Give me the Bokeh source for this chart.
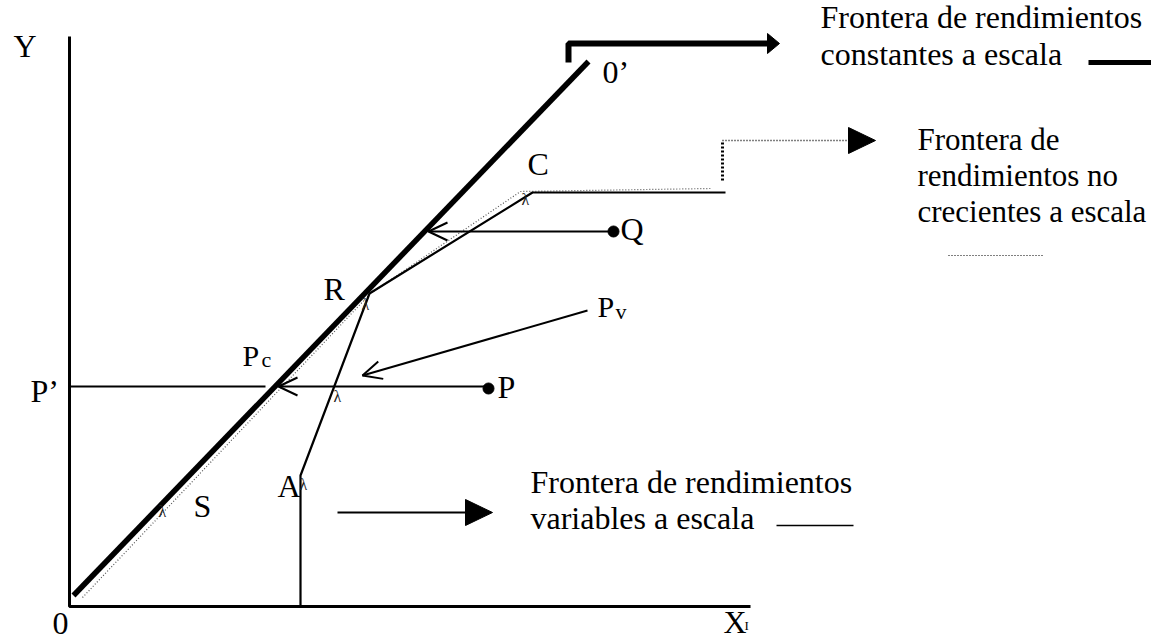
import math
from bokeh.plotting import figure
from bokeh.models import Range1d
from bokeh.core.properties import value
from bokeh.embed import file_html
from bokeh.resources import INLINE

# ---------------- data (diagram coordinates, origin at the axes' corner) ----------------
axis_x = [0, 0, 681]
axis_y = [570, 0, 0]

# constant returns to scale frontier (thick)
crs_x = [4, 519]
crs_y = [11, 545]

# variable returns to scale frontier (solid): X-axis foot, A, R, C, end
vrs_x = [231, 231, 300, 463, 656]
vrs_y = [0, 131, 313, 414, 414]

# non-increasing returns to scale frontier (dotted)
nirs_x = [13, 301, 451, 641]
nirs_y = [9, 313, 415, 418]

# P' horizontal reference
pprime_x = [0, 196]
pprime_y = [220, 220]

# observed units and their projection arrows (tail -> tip)
P_pt = (419, 218)
Q_pt = (544, 375)
arrow_P = ((419, 220), (209, 220))
arrow_Q = ((544, 375), (359, 375))
arrow_Pv = ((518, 296), (293, 231))

# legend arrows
crs_leg_x = [499, 499, 700]
crs_leg_y = [544, 563, 563]
crs_leg_tip = (710, 563)
nirs_leg_x = [653, 653, 779]
nirs_leg_y = [426, 466, 466]
nirs_leg_tip = (806, 466)
vrs_leg_x = [268, 396]
vrs_leg_y = [94, 94]
vrs_leg_tip = (423, 94)

# legend line samples
crs_sample = ([1019, 1082], [544, 544])
nirs_sample = ([879, 974], [351, 351])
vrs_sample = ([707, 784], [81, 81])

# point labels: text, x, y (baseline), size
labels = [
    ("Y", -56, 561, 32), ("0", -17, -17, 32), ("X", 654, -15, 32), ("I", 675, -19, 13),
    ("0\u2019", 533, 535, 32), ("C", 458, 443, 32), ("Q", 551, 378, 32),
    ("R", 254, 318, 32), ("P", 528, 300, 30), ("v", 546, 295, 22),
    ("P", 173, 251, 30), ("c", 192, 247, 22), ("P\u2019", -39, 216, 32),
    ("P", 428, 220, 32), ("A", 208, 121, 32), ("S", 124, 101, 32),
]
marks_x = [93, 234, 296, 268, 456]
marks_y = [95, 122, 302, 210, 407]

text_blocks = [
    ("Frontera de rendimientos", 751, 590, 32), ("constantes a escala", 751, 553, 32),
    ("Frontera de", 848, 467, 31), ("rendimientos no", 848, 431, 31),
    ("crecientes a escala", 848, 395, 31),
    ("Frontera de rendimientos", 461, 125, 32), ("variables a escala", 461, 89, 32),
]

FONT = value("Liberation Serif")

p = figure(width=1151, height=641, x_range=Range1d(-69, 1082), y_range=Range1d(-35, 606),
           toolbar_location=None, output_backend="svg", min_border=0,
           min_border_left=0, min_border_right=0, min_border_top=0, min_border_bottom=0)
p.axis.visible = False
p.grid.visible = False
p.outline_line_color = None
p.background_fill_color = "white"
p.border_fill_color = "white"


def filled_head(tip, frm, length, half):
    dx, dy = tip[0] - frm[0], tip[1] - frm[1]
    n = math.hypot(dx, dy)
    ux, uy = dx / n, dy / n
    bx, by = tip[0] - length * ux, tip[1] - length * uy
    return [tip[0], bx - half * uy, bx + half * uy], [tip[1], by + half * ux, by - half * ux]


def open_head(tip, frm, length, half):
    dx, dy = tip[0] - frm[0], tip[1] - frm[1]
    n = math.hypot(dx, dy)
    ux, uy = dx / n, dy / n
    bx, by = tip[0] - length * ux, tip[1] - length * uy
    return [bx - half * uy, tip[0], bx + half * uy], [by + half * ux, tip[1], by - half * ux]


# axes
p.line(axis_x, axis_y, line_color="black", line_width=3)

# frontiers
p.line(nirs_x, nirs_y, line_color="#555555", line_width=1.2, line_dash="1 2")
p.line(vrs_x, vrs_y, line_color="black", line_width=2.2)
p.line(crs_x, crs_y, line_color="black", line_width=5.5)
p.line(pprime_x, pprime_y, line_color="black", line_width=2)

# projection arrows
for tail, tip in (arrow_P, arrow_Q, arrow_Pv):
    p.line([tail[0], tip[0]], [tail[1], tip[1]], line_color="black", line_width=2)
    hx, hy = open_head(tip, tail, 19, 9)
    p.line(hx, hy, line_color="black", line_width=2)

p.scatter([P_pt[0], Q_pt[0]], [P_pt[1], Q_pt[1]], size=11, color="black")

# legend arrows
p.line(crs_leg_x, crs_leg_y, line_color="black", line_width=6)
hx, hy = filled_head(crs_leg_tip, (crs_leg_x[1], crs_leg_y[1]), 12, 10)
p.patch(hx, hy, color="black")

p.line(nirs_leg_x[:2], nirs_leg_y[:2], line_color="black", line_width=3, line_dash="2 2")
p.line(nirs_leg_x[1:], nirs_leg_y[1:], line_color="black", line_width=1.5, line_dash="1 2")
hx, hy = filled_head(nirs_leg_tip, (nirs_leg_x[1], nirs_leg_y[1]), 27, 13)
p.patch(hx, hy, color="black")

p.line(vrs_leg_x, vrs_leg_y, line_color="black", line_width=2)
hx, hy = filled_head(vrs_leg_tip, (vrs_leg_x[0], vrs_leg_y[0]), 27, 13)
p.patch(hx, hy, color="black")

# legend samples
p.line(*crs_sample, line_color="black", line_width=5)
p.line(*nirs_sample, line_color="black", line_width=1, line_dash="1 2")
p.line(*vrs_sample, line_color="black", line_width=1.5)

# small point marks
p.text(marks_x, marks_y, text=["\u03bb"] * len(marks_x), text_font=FONT,
       text_font_size=value("16px"), text_align="center", text_baseline="middle",
       text_color="#222222")

# labels
for t, x, y, s in labels:
    p.text([x], [y], text=[t], text_font=FONT, text_font_size=value(f"{s}px"),
           text_align="left", text_baseline="alphabetic", text_color="black")

for t, x, y, s in text_blocks:
    p.text([x], [y], text=[t], text_font=FONT, text_font_size=value(f"{s}px"),
           text_align="left", text_baseline="alphabetic", text_color="black")

open("out.html", "w").write(file_html(p, INLINE))
